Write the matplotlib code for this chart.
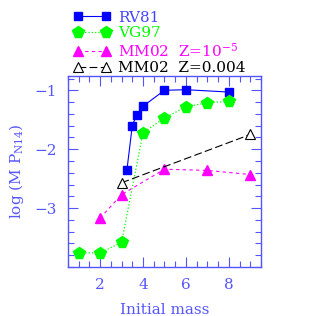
import matplotlib
matplotlib.use("Agg")
import matplotlib.pyplot as plt
from matplotlib.ticker import MultipleLocator

rv81_x = [3.25, 3.5, 3.7, 4, 5, 6, 8]
rv81_y = [-2.35, -1.6, -1.42, -1.27, -1.0, -0.99, -1.03]
vg97_x = [1, 2, 3, 4, 5, 6, 7, 8]
vg97_y = [-3.76, -3.76, -3.58, -1.72, -1.47, -1.28, -1.21, -1.19]
mm5_x = [2, 3, 5, 7, 9]
mm5_y = [-3.17, -2.77, -2.34, -2.36, -2.43]
mm4_x = [3, 9]
mm4_y = [-2.57, -1.75]

plt.rcParams['font.family'] = ['DejaVu Serif']
plt.rcParams['mathtext.fontset'] = 'dejavuserif'
axc = '#5555ff'

fig = plt.figure(figsize=(3.16, 3.16), dpi=100)
ax = fig.add_axes([0.215, 0.155, 0.611, 0.604])

l1, = ax.plot(rv81_x, rv81_y, '-', color='blue', lw=0.8, marker='s', ms=6, label='RV81')
l2, = ax.plot(vg97_x, vg97_y, ':', color='#00ff00', lw=0.9, marker='p', ms=8.5, label='VG97')
l3, = ax.plot(mm5_x, mm5_y, '--', color='magenta', lw=0.8, dashes=(3, 3), marker='^', ms=7.5, label=r'MM02  Z=10$^{-5}$')
l4, = ax.plot(mm4_x, mm4_y, '--', color='black', lw=0.8, dashes=(7, 3), marker='^', ms=7.5,
              mfc='white', mec='black', mew=0.8, label='MM02  Z=0.004')

ax.set_xlim(0.5, 9.5)
ax.set_ylim(-4.0, -0.76)
ax.xaxis.set_minor_locator(MultipleLocator(0.5))
ax.yaxis.set_minor_locator(MultipleLocator(0.2))
ax.set_xticks([2, 4, 6, 8])
ax.set_yticks([-1, -2, -3])
ax.set_yticklabels(['\u22121', '\u22122', '\u22123'])
ax.tick_params(which='both', direction='in', top=True, right=True, colors=axc, labelcolor=axc, labelsize=11)
ax.tick_params(which='major', length=7, width=0.8, pad=8)
ax.tick_params(which='minor', length=4, width=0.8)
for s in ax.spines.values():
    s.set_color(axc)
    s.set_linewidth(1.0)

ax.set_xlabel('Initial mass', color=axc, fontsize=11, labelpad=8)
ax.set_ylabel(r'log (M P$_{\rm N14}$)', color=axc, fontsize=11, labelpad=6)

leg = fig.legend(handles=[l1, l2, l3, l4], loc='upper left', bbox_to_anchor=(0.2, 1.0),
                 frameon=False, numpoints=2, handlelength=2.4, handletextpad=0.5,
                 labelspacing=0.1, fontsize=11, borderaxespad=0.3)
cols = ['#4444ff', '#00ff00', 'magenta', 'black']
for t, c in zip(leg.get_texts(), cols):
    t.set_color(c)

fig.savefig('out.png', dpi=100)
